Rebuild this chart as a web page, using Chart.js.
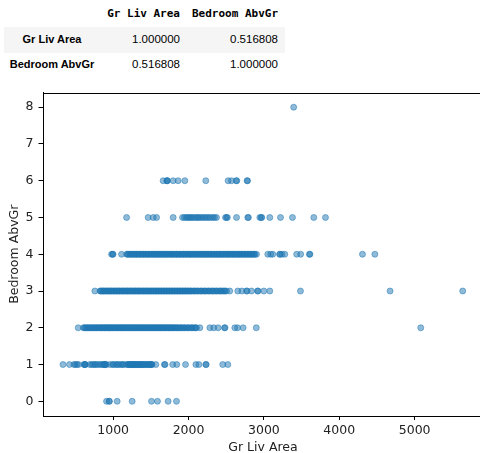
<!DOCTYPE html>
<html>
<head>
<meta charset="utf-8">
<script src="https://cdn.jsdelivr.net/npm/chart.js@4.4.1/dist/chart.umd.min.js"></script>
<style>
  html, body { margin:0; padding:0; width:480px; height:453px; overflow:hidden; background:#fff; }
  .t { position:absolute; white-space:nowrap; color:#000; }
  .mono { font-family:"DejaVu Sans Mono", monospace; font-weight:bold; font-size:11px; }
  .num { font-family:"Liberation Sans", Arial, sans-serif; font-size:11.5px; }
  .lab { font-family:"Liberation Sans", Arial, sans-serif; font-weight:bold; font-size:11px; }
  #rowbg { position:absolute; left:4px; top:27px; width:281px; height:26px; background:#f5f5f5; }
  #wrap { position:absolute; left:0; top:80px; width:500px; height:380px; }
</style>
</head>
<body>
<div id="rowbg"></div>
<div id="table"></div>
<div id="wrap"><canvas id="c" width="500" height="380"></canvas></div>
<script>
// ---- table data ----
const corrCols = ["Gr Liv Area", "Bedroom AbvGr"];
const corrRows = ["Gr Liv Area", "Bedroom AbvGr"];
const corrVals = [["1.000000", "0.516808"], ["0.516808", "1.000000"]];

// ---- scatter data: Gr Liv Area values for each Bedroom AbvGr level ----
const bedroomLevels = [0, 1, 2, 3, 4, 5, 6, 8];
const area0 = [912, 947, 950, 1053, 1252, 1509, 1588, 1729, 1840];
const area1 = [334, 420, 480, 498, 520, 540, 612, 625, 630, 690, 714, 735, 757, 768, 797, 820, 846, 864, 882, 890, 896, 912, 960, 996, 1005, 1040, 1052, 1078, 1100, 1129, 1170, 1195, 1212, 1224, 1240, 1252, 1264, 1280, 1296, 1305, 1320, 1338, 1352, 1365, 1380, 1392, 1410, 1430, 1452, 1470, 1490, 1505, 1515, 1566, 1680, 1688, 1790, 1844, 1960, 2097, 2137, 2229, 2234, 2454, 2521,
  625, 885, 1128, 1200, 1230, 1258, 1288, 1330, 1360, 1400, 1440, 1480, 1510];
const area2 = [536, 605, 630, 648, 672, 690, 712, 731, 752, 770, 791, 812, 829, 848, 864, 883, 900, 917, 936, 952, 969, 984, 1001, 1020, 1038, 1056, 1073, 1090, 1108, 1123, 1141, 1158, 1176, 1193, 1210, 1228, 1245, 1262, 1281, 1298, 1316, 1333, 1350, 1369, 1386, 1404, 1421, 1440, 1458, 1475, 1494, 1512, 1531, 1548, 1566, 1585, 1602, 1620, 1637, 1656, 1674, 1692, 1711, 1728, 1746, 1765, 1782, 1800, 1821, 1840, 1862, 1885, 1906, 1931, 1953, 1978, 2003, 2030, 2056, 2081, 2106, 2150, 2283, 2334, 2393, 2478, 2484, 2614, 2650, 2724, 2899, 5081,
  620, 660, 700, 742, 780, 820, 856, 892, 926, 960, 992, 1028, 1064, 1100, 1132, 1166, 1202, 1236, 1270, 1306, 1342, 1378, 1412, 1448, 1484, 1520, 1556, 1592, 1628, 1664, 1700, 1736, 1772, 1810, 1850, 1895, 1942, 1990, 2042, 2093];
const area3 = [757, 826, 845, 862, 880, 897, 915, 932, 950, 968, 985, 1002, 1020, 1037, 1055, 1072, 1090, 1108, 1125, 1142, 1160, 1178, 1195, 1212, 1230, 1247, 1265, 1283, 1300, 1318, 1335, 1352, 1370, 1388, 1405, 1423, 1440, 1458, 1475, 1493, 1510, 1528, 1546, 1563, 1580, 1598, 1616, 1633, 1650, 1668, 1686, 1703, 1720, 1738, 1756, 1773, 1790, 1808, 1826, 1843, 1861, 1878, 1896, 1914, 1931, 1949, 1966, 1984, 2002, 2020, 2040, 2062, 2084, 2106, 2130, 2154, 2178, 2202, 2228, 2254, 2280, 2306, 2332, 2358, 2384, 2410, 2436, 2460, 2484, 2504, 2547, 2653, 2707, 2770, 2776, 2836, 2916, 2922, 2999, 3078, 3485, 4674, 5638,
  836, 871, 906, 941, 976, 1011, 1046, 1081, 1116, 1151, 1186, 1221, 1256, 1291, 1326, 1361, 1396, 1431, 1466, 1501, 1536, 1571, 1606, 1641, 1676, 1711, 1746, 1781, 1816, 1851, 1886, 1921, 1956, 1992, 2030, 2072, 2116, 2166, 2216, 2268, 2320, 2372, 2424, 2472];
const area4 = [979, 993, 999, 1111, 1180, 1200, 1220, 1240, 1262, 1282, 1302, 1322, 1344, 1364, 1384, 1405, 1426, 1446, 1466, 1487, 1508, 1528, 1548, 1569, 1590, 1610, 1630, 1651, 1672, 1692, 1712, 1733, 1754, 1774, 1794, 1815, 1836, 1856, 1876, 1897, 1918, 1938, 1958, 1979, 2000, 2020, 2040, 2061, 2082, 2102, 2122, 2143, 2164, 2184, 2204, 2225, 2246, 2266, 2286, 2307, 2328, 2348, 2368, 2389, 2410, 2430, 2450, 2471, 2492, 2512, 2532, 2553, 2574, 2594, 2614, 2635, 2656, 2676, 2696, 2717, 2738, 2758, 2778, 2799, 2820, 2840, 2860, 2881, 2902, 3052, 3090, 3118, 3208, 3214, 3240, 3277, 3435, 3488, 3604, 3610, 4308, 4472,
  1190, 1230, 1272, 1312, 1354, 1395, 1436, 1476, 1518, 1558, 1600, 1640, 1682, 1722, 1764, 1804, 1846, 1886, 1928, 1968, 2010, 2050, 2092, 2132, 2174, 2214, 2256, 2296, 2338, 2378, 2420, 2460, 2502, 2542, 2584, 2624, 2666, 2706, 2748, 2788, 2830, 2870];
const area5 = [1178, 1464, 1531, 1576, 1796, 1920, 1945, 1970, 1990, 2010, 2030, 2050, 2075, 2100, 2120, 2140, 2165, 2190, 2215, 2240, 2265, 2290, 2320, 2345, 2371, 2490, 2505, 2515, 2637, 2786, 2794, 2946, 2964, 2972, 3078, 3220, 3379, 3662, 3817];
const area6 = [1663, 1712, 1716, 1720, 1796, 1862, 1951, 2229, 2525, 2570, 2634, 2640, 2777, 2783];
const area8 = [3395];
const areasByLevel = [area0, area1, area2, area3, area4, area5, area6, area8];

// ---- axis ticks ----
const xTicks = [1000, 2000, 3000, 4000, 5000];
const yTicks = [0, 1, 2, 3, 4, 5, 6, 7, 8];

// build table
(function () {
  const tb = document.getElementById('table');
  const colRight = [180, 278];
  const rowCenterY = [40, 65];
  corrCols.forEach((c, i) => {
    const d = document.createElement('div');
    d.className = 't mono';
    d.textContent = c;
    d.style.right = (480 - colRight[i]) + 'px';
    d.style.top = '7px';
    tb.appendChild(d);
  });
  corrRows.forEach((r, j) => {
    const d = document.createElement('div');
    d.className = 't lab';
    d.textContent = r;
    d.style.left = '2px'; d.style.width = '100px'; d.style.textAlign = 'center';
    d.style.top = (rowCenterY[j] - 7) + 'px';
    tb.appendChild(d);
    corrVals[j].forEach((v, i) => {
      const e = document.createElement('div');
      e.className = 't num';
      e.textContent = v;
      e.style.right = (480 - colRight[i]) + 'px';
      e.style.top = (rowCenterY[j] - 7) + 'px';
      tb.appendChild(e);
    });
  });
})();

const points = [];
bedroomLevels.forEach((b, i) => areasByLevel[i].forEach(a => points.push({ x: a, y: b })));

const frame = {
  id: 'frame',
  afterDraw(chart) {
    const { ctx, chartArea: a } = chart;
    ctx.save();
    ctx.strokeStyle = '#000';
    ctx.lineWidth = 1;
    ctx.beginPath();
    ctx.moveTo(Math.round(a.left) + 0.5, Math.round(a.top) + 0.5);
    ctx.lineTo(Math.round(a.right) + 0.5, Math.round(a.top) + 0.5);
    ctx.lineTo(Math.round(a.right) + 0.5, Math.round(a.bottom) + 0.5);
    ctx.stroke();
    ctx.restore();
  }
};

const tickFont = { family: 'DejaVu Sans', size: 12.5 };
new Chart(document.getElementById('c'), {
  type: 'scatter',
  data: {
    datasets: [{
      data: points,
      backgroundColor: 'rgba(31,119,180,0.5)',
      borderColor: 'rgba(31,119,180,0.5)',
      borderWidth: 1,
      pointRadius: 3,
      pointHoverRadius: 3
    }]
  },
  options: {
    responsive: false,
    animation: false,
    events: [],
    layout: { padding: { left: 0, top: 8, right: 17, bottom: 0 } },
    plugins: { legend: { display: false }, tooltip: { enabled: false } },
    scales: {
      x: {
        type: 'linear', min: 69, max: 5907,
        afterFit(s) { s.height = 44; },
        afterBuildTicks(s) { s.ticks = xTicks.map(v => ({ value: v })); },
        grid: { drawOnChartArea: false, drawTicks: true, tickLength: 4, color: '#000' },
        border: { display: true, color: '#000', width: 1 },
        ticks: { font: tickFont, color: '#222', padding: 3, maxRotation: 0, callback: v => String(v) },
        title: { display: true, text: 'Gr Liv Area', font: tickFont, color: '#222', padding: { bottom: 4.5, top: 0 } }
      },
      y: {
        type: 'linear', min: -0.4, max: 8.4,
        afterFit(s) { s.width = 43; },
        afterBuildTicks(s) { s.ticks = yTicks.map(v => ({ value: v })); },
        grid: { drawOnChartArea: false, drawTicks: true, tickLength: 4.5, color: '#000' },
        border: { display: true, color: '#000', width: 1 },
        ticks: { font: tickFont, color: '#222', padding: 5, callback: v => String(v) },
        title: { display: true, text: 'Bedroom AbvGr', font: tickFont, color: '#222', padding: { top: 7, bottom: 0 } }
      }
    }
  },
  plugins: [frame]
});
</script>
</body>
</html>
